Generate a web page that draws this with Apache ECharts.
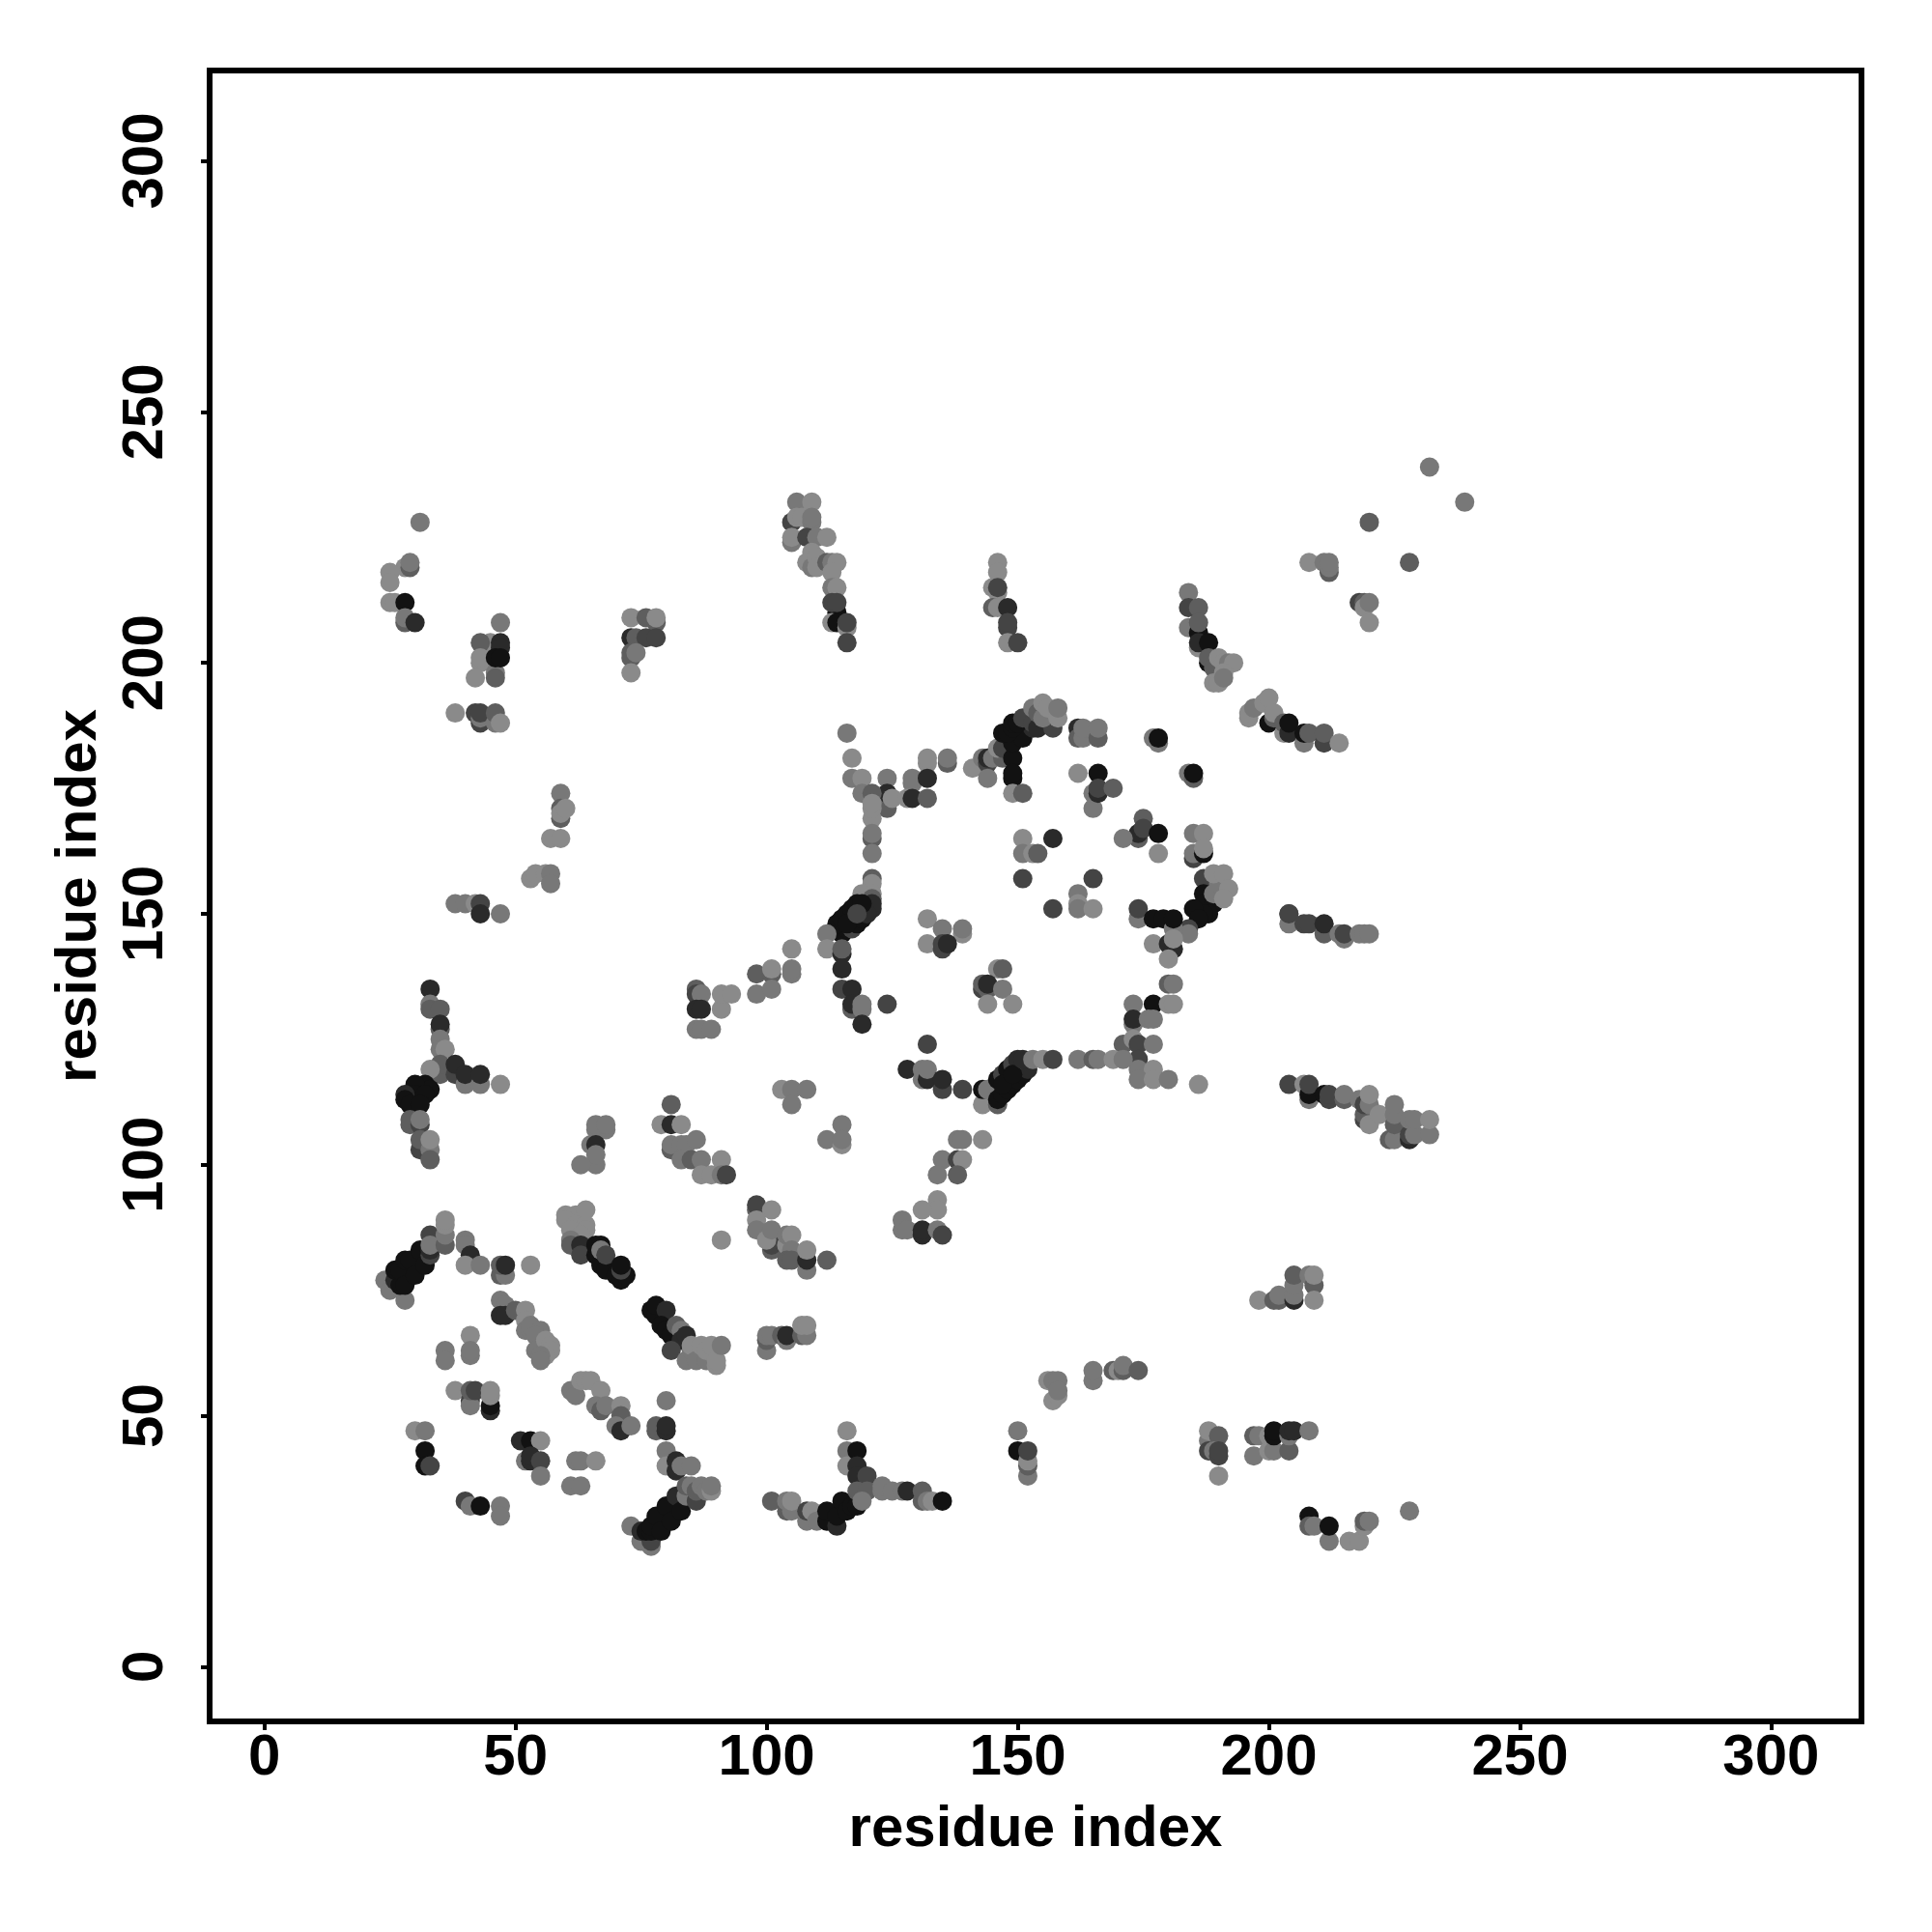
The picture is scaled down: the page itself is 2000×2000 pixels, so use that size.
<!DOCTYPE html>
<html><head><meta charset="utf-8">
<style>html,body{margin:0;padding:0;background:#fff}#c{width:2000px;height:2000px}</style>
<script src="https://cdn.jsdelivr.net/npm/echarts@6/dist/echarts.min.js"></script>
</head><body><div id="c"></div>
<script>
const xTicks=[0,50,100,150,200,250,300];
const yTicks=[0,50,100,150,200,250,300];
const axisTitle='residue index';
// each contact: [residue i, residue j, strength class 1 (strongest) .. 6 (weakest)]
const topLeft=[[31,228,5],[28,219,6],[29,219,4],[29,220,5],[25,218,6],[25,216,6],[25,212,6],[26,212,6],[28,212,1],[28,208,4],[28,209,5],[30,208,2],
[47,208,5],[45,204,6],[43,204,4],[47,204,2],[47,203,2],[43,200,6],[43,201,6],[46,198,5],[46,197,4],[46,201,1],[47,201,1],[42,197,6],[38,190,6],[42,190,3],[43,188,3],[43,189,5],[43,190,3],[46,188,5],[46,190,4],[47,188,6],
[73,209,6],[76,209,4],[78,208,4],[78,209,6],[73,205,2],[74,205,4],[76,205,3],[78,205,3],[73,201,4],[73,202,4],[74,202,5],[73,198,6],
[59,174,5],[59,169,4],[59,171,4],[59,170,6],[60,171,6],[57,165,6],[59,165,6],[53,157,6],[54,158,6],[56,158,6],[57,158,5],[57,156,5],[38,152,5],[40,152,5],[42,152,6],[43,152,3],[43,150,2],[47,150,5]];
const topMiddle=[[106,232,5],[109,232,6],[105,228,3],[106,229,6],[107,229,6],[109,228,5],[109,229,5],[105,224,5],[105,225,6],[108,225,3],[110,225,5],[112,225,6],[109,222,6],[108,220,6],[109,219,5],[110,221,6],[110,219,6],[112,220,4],[113,220,5],[114,220,6],[113,218,6],[113,215,5],[114,215,6],[114,210,1],[113,212,3],[114,212,3],[113,208,6],[114,208,1],[116,207,6],[116,208,3],[116,204,3],
[146,220,6],[146,218,6],[145,215,6],[146,214,6],[146,215,3],[145,211,4],[146,211,6],[148,211,2],[148,207,3],[148,208,3],[148,204,6],[150,204,3]];
const topRight=[[232,239,5],[239,232,5],[220,228,4],[228,220,4],[208,220,6],[211,220,5],[212,218,4],[212,219,5],[212,220,5],[218,212,3],[219,212,4],[219,211,6],[220,212,5],[220,208,6],
[184,214,5],[184,211,3],[186,211,4],[184,207,5],[186,206,1],[186,208,4],[186,203,6],[186,204,2],[188,204,1],[188,200,1],[188,201,4],[189,199,4],[190,201,6],[191,200,6],[192,200,5],[193,200,6],[189,196,6],[190,196,6],[191,198,6],[191,197,5],
[196,189,6],[196,190,6],[197,191,5],[199,192,6],[200,193,6],[200,188,1],[201,189,4],[201,190,6],[203,186,6],[203,188,4],[204,186,2],[204,188,1],[207,184,5],[207,186,1],[208,186,4],[211,184,3],[211,186,4],[214,184,6]];
const ringTop=[[116,186,5],[117,181,6],[117,177,5],[119,177,6],[124,177,5],[119,174,5],[124,171,4],[124,174,2],[121,174,4],[121,169,6],[121,171,6],[121,172,6],[125,173,6],[129,176,5],[129,177,5],[132,180,6],[132,181,6],[132,177,2],[128,173,6],[129,173,2],[132,173,4],[136,180,4],[136,181,5],[121,165,4],[121,166,5],[121,162,5],
[141,179,6],[143,181,5],[144,180,3],[144,181,2],[145,181,5],[147,181,4],[146,183,6],[147,183,3],[144,177,5],[149,181,1],[149,177,1],[149,178,1],[149,174,6],[151,174,4],
[149,184,1],[151,185,1],[153,187,2],[147,186,1],[148,186,1],[149,187,1],[149,188,1],[150,188,1],[151,189,3],[153,188,3],[154,187,2],[157,187,3],[153,191,5],[154,190,4],[155,189,5],[155,192,6],[156,191,6],[158,189,6],[158,191,5],
[162,187,2],[162,185,4],[163,185,5],[163,187,5],[166,185,4],[166,187,5],[177,185,5],[178,184,5],[178,185,1],[162,178,6],[166,178,1],[165,171,5],[165,174,5],[166,174,2],[166,175,3],[169,175,4],[184,178,5],[185,177,4],[185,178,1]];
const ringRight=[[175,169,4],[174,165,4],[174,166,2],[175,167,3],[171,165,5],[178,166,1],[178,162,6],[185,166,5],[187,166,6],[185,161,3],[185,162,5],[187,162,1],[187,163,6],
[187,157,3],[187,154,1],[187,152,1],[189,152,1],[188,150,1],[187,150,1],[185,151,1],[186,149,1],[184,147,3],[184,146,5],[189,154,5],[190,156,5],[189,158,6],[191,158,6],[192,155,6],[191,153,6],
[174,149,5],[174,151,3],[177,149,1],[179,149,1],[181,147,5],[181,149,1],[177,144,6],[180,144,2],[181,143,2],[181,145,6],[180,141,6],[180,136,4],[181,136,5],
[173,132,5],[177,132,1],[180,132,6],[181,132,6],[173,128,5],[173,129,2],[176,129,5],[177,129,5],[171,124,4],[173,125,6],[174,124,3],[177,124,5],[174,121,3],[174,119,5],[177,119,6],[174,117,5],[177,117,6],[186,116,6],[180,117,5]];
const ringBottom=[[132,124,3],[128,119,2],[131,117,5],[131,119,5],[132,117,2],[132,119,5],[135,115,3],[135,117,2],[139,115,3],[143,112,6],[146,112,4],[143,115,1],[144,115,5],
[146,113,1],[147,114,1],[148,115,1],[149,116,1],[150,117,1],[151,118,1],[152,119,2],[146,117,1],[147,118,3],[148,119,1],[149,120,3],[150,121,2],[147,116,1],[149,118,1],[151,121,2],[153,121,5],[155,121,6],[157,121,3],
[162,121,5],[165,121,4],[166,121,5],[169,121,6],[171,121,5]];
const ringLeft=[[121,157,4],[121,156,6],[121,154,6],[119,154,6],[121,153,4],[121,151,2],[121,152,2],
[115,146,1],[116,147,1],[117,147,3],[118,148,1],[119,149,1],[120,150,2],[114,148,1],[115,149,1],[116,150,1],[117,151,1],[118,152,1],[119,152,1],[116,148,1],[118,150,3],
[112,146,5],[112,143,6],[115,142,2],[115,143,4],[115,139,2],[115,135,3],[117,135,2],[117,131,4],[117,132,2],[119,131,5],[119,132,5],[119,128,2],[124,132,3]];
const ringInside=[[132,149,6],[135,147,5],[139,146,6],[139,147,5],[132,144,6],[135,143,3],[135,144,3],[136,144,2],[146,139,6],[147,139,4],[143,135,3],[144,135,4],[143,136,4],[144,136,2],[147,135,5],[144,132,6],[149,132,6],
[151,165,6],[157,165,2],[151,162,5],[153,162,6],[154,162,4],[151,157,3],[165,157,3],[162,154,5],[162,152,6],[162,151,5],[157,151,3],[165,151,6]];
const leftBranch=[[33,135,2],[33,132,5],[33,131,4],[35,131,4],[35,127,4],[35,128,2],[35,125,5],[35,123,5],[36,123,6],[35,118,4],[35,120,4],[33,119,6],[38,118,3],[38,120,2],[40,116,5],[40,118,2],[43,116,5],[43,118,2],[47,116,6],
[32,116,1],[33,115,1],[30,116,1],[30,114,1],[32,114,1],[28,114,2],[28,113,1],[29,112,1],[31,112,1],[29,108,4],[29,109,4],[31,108,3],[31,109,5],[31,103,3],[31,105,4],[33,103,5],[33,105,6],[33,101,4]];
const midLeft=[[66,107,5],[68,107,5],[66,108,5],[68,108,5],[65,104,5],[66,104,2],[66,100,5],[66,102,5],[63,100,5],
[81,112,4],[79,108,6],[81,108,2],[83,108,6],[81,103,4],[81,104,5],[83,104,5],[84,104,5],[86,105,5],[83,101,5],[85,101,4],[87,101,5],[87,98,6],[89,98,6],[91,101,6],[91,98,5],[92,98,3],
[86,135,4],[86,134,3],[87,134,5],[86,131,2],[87,131,2],[86,127,5],[87,127,5],[89,127,5],[91,131,6],[91,134,6],[93,134,6],
[98,138,4],[98,134,5],[101,138,4],[101,139,6],[101,135,5],[105,143,6],[105,138,5],[105,139,5],
[103,115,6],[105,115,5],[108,115,5],[105,112,5],[115,108,5],[112,105,5],[115,104,6],[115,105,5]];
const midRight=[[138,105,5],[139,105,5],[143,105,6],[135,101,5],[138,101,3],[139,101,6],[134,98,5],[138,98,4],[134,93,6],[134,91,6],[131,91,6],[127,87,5],[127,89,5],[128,87,5],[131,86,2],[131,87,2],[134,87,5],[135,86,3],
[204,150,3],[204,148,5],[204,150,3],[207,148,3],[208,148,3],[211,146,4],[211,148,2],[214,146,5],[215,145,5],[215,146,3],[218,146,5],[219,146,5],[220,146,5],
[204,116,3],[207,116,6],[208,113,5],[208,114,1],[208,116,3],[211,114,1],[212,113,3],[212,114,3],[215,113,4],[215,114,5],[218,113,5],[219,109,3],[219,110,4],[219,112,3],[220,108,6],[220,112,5],[220,114,6],[222,110,6],[224,105,4],[225,105,5],[225,108,4],[225,110,5],[225,112,5],[228,105,2],[228,106,3],[228,109,5],[229,106,5],[229,109,5],[232,106,5],[232,109,6]];
const lowLeft=[[24,77,5],[25,75,5],[28,73,5],[26,77,2],[27,76,1],[26,79,1],[27,79,1],[28,76,1],[28,81,1],[29,81,1],[30,78,1],[31,83,1],[32,80,1],[33,82,3],[33,83,2],[33,86,3],[33,84,5],[36,84,4],[36,86,5],[36,88,6],[36,89,6],
[40,85,5],[40,84,5],[41,82,2],[40,80,6],[43,80,5],[47,78,4],[48,78,5],[47,80,4],[48,80,2],[53,80,6],
[47,73,5],[48,72,5],[47,70,2],[48,70,2],[50,71,4],[52,71,6],[52,69,6],[52,67,5],[53,67,5],[53,68,5],[55,67,5],[54,66,5],[54,63,5],[56,65,6],[57,64,6],[57,63,6],[56,62,6],[55,62,5],[55,61,5],
[41,66,6],[41,62,5],[41,63,5],[36,63,5],[36,61,5],[38,55,6],[41,53,3],[41,52,5],[41,55,4],[42,55,3],[45,51,2],[45,52,1],[45,54,6],[45,55,6],
[30,47,6],[32,47,5],[32,43,1],[32,40,1],[33,40,3],[40,33,3],[41,32,5],[43,32,1],[47,32,5],[47,30,5]];
const lowMiddle=[[60,90,6],[62,90,6],[64,91,6],[60,89,6],[62,88,6],[64,88,6],[61,87,6],[64,87,6],[63,86,6],[61,85,5],[61,84,4],[63,84,2],[63,82,3],
[66,82,1],[66,84,1],[67,84,1],[67,80,1],[68,79,1],[70,78,1],[71,77,1],[72,78,1],[67,83,5],[68,82,3],[71,79,3],[71,80,1],
[61,55,5],[62,54,5],[63,57,6],[64,57,6],[65,57,6],[67,55,6],[66,52,5],[67,51,4],[68,52,5],[71,52,6],[71,50,4],[70,48,5],[71,47,2],[73,48,5],
[80,53,5],[78,47,4],[78,48,4],[80,47,2],[80,48,2],[80,43,5],[80,40,6],[82,39,2],[82,41,2],[83,40,5],[85,40,5],
[51,45,2],[53,45,1],[55,45,6],[52,41,5],[53,41,2],[53,42,2],[55,41,3],[55,38,5],[62,41,5],[63,41,5],[66,41,6],[61,36,5],[63,36,5]];
const lowDiagonal=[[77,71,1],[78,70,1],[78,72,1],[80,71,2],[79,68,1],[80,67,1],[81,66,1],[82,68,4],[83,67,5],[83,65,2],[84,66,2],[81,63,3],
[84,61,5],[85,63,5],[85,64,6],[86,61,5],[87,64,6],[88,61,5],[88,63,6],[89,64,6],[90,60,6],[90,61,6],[91,64,5],
[73,28,5],[75,25,5],[77,24,5],[77,25,3],[75,27,2],[76,27,1],[77,27,1],[77,28,1],[78,30,1],[79,27,1],[80,32,1],[81,29,1],[82,34,2],[83,31,1],[84,34,5],[84,36,4],[86,33,3],[85,36,5],[86,35,4],[87,36,5],[88,35,5],[89,35,6],[89,36,5]];
const centerLow=[[98,91,4],[98,92,3],[101,91,6],[98,89,6],[98,87,5],[101,83,4],[101,84,3],[101,85,3],[100,85,6],[101,87,5],[104,84,6],[104,86,5],[105,86,6],[105,83,5],[104,81,4],[105,81,4],[108,79,5],[108,81,2],[108,83,6],[112,81,4],[91,85,6],
[100,63,5],[100,65,4],[100,66,5],[101,66,5],[103,66,4],[104,65,5],[104,66,2],[107,66,4],[108,66,5],[107,68,6],[108,68,6]];
const bottomRow=[[101,33,4],[104,31,4],[104,33,5],[105,31,5],[105,33,6],[108,29,5],[108,31,3],[109,31,6],[110,29,5],[112,29,1],[112,31,1],[114,28,2],[114,30,1],[115,33,1],[116,31,1],[117,32,1],[118,32,1],
[116,47,6],[116,43,5],[116,40,6],[118,43,1],[118,40,2],[118,38,2],[120,38,3],[118,35,4],[120,35,4],[119,33,5],[123,35,5],[123,36,5],[125,35,5],[127,35,5],[128,35,2],[131,33,4],[131,35,4],[132,33,5],[133,33,6],[135,33,1],
[150,47,5],[150,43,1],[152,38,5],[152,40,4],[152,41,6],[152,43,3],[156,57,6],[157,57,5],[158,57,5],[157,53,6],[158,54,6],[158,55,5],
[165,57,5],[165,59,5],[169,59,4],[170,59,6],[171,59,4],[171,60,5],[174,59,4]];
const bottomRight=[[188,45,5],[188,47,6],[190,46,4],[188,43,3],[189,43,5],[190,42,3],[190,43,3],[190,38,6],
[197,42,5],[197,46,4],[198,46,5],[200,46,6],[200,43,6],[201,43,5],[201,46,1],[201,47,1],[204,43,4],[204,46,5],[204,47,2],[205,47,2],[208,47,5],
[198,73,6],[201,73,4],[202,73,4],[202,74,5],[205,73,2],[205,74,5],[205,76,5],[205,78,4],[208,78,5],[209,76,4],[209,78,6],[209,73,6],
[208,30,1],[208,28,4],[209,28,5],[212,25,5],[212,28,1],[216,25,6],[218,25,6],[219,28,6],[219,29,4],[220,29,5],[228,31,5]];
const contacts=[].concat(topLeft,topMiddle,topRight,ringTop,ringRight,ringBottom,ringLeft,ringInside,leftBranch,midLeft,midRight,lowLeft,lowMiddle,lowDiagonal,centerLow,bottomRow,bottomRight);
const shades=['#121212','#2a2a2a','#444444','#5e5e5e','#787878','#8a8a8a'];
const font='"Liberation Sans", Arial, sans-serif';
const chart=echarts.init(document.getElementById('c'),null,{renderer:'canvas'});
chart.setOption({
  animation:false,
  backgroundColor:'#fff',
  grid:{left:217,right:73,top:73,bottom:218,show:true,borderColor:'#000',borderWidth:6,backgroundColor:'#fff'},
  xAxis:{type:'value',min:-10.9,max:318,name:axisTitle,nameLocation:'middle',nameGap:82,
    nameTextStyle:{fontFamily:font,fontWeight:'bold',fontSize:60,color:'#000'},
    axisLine:{show:false,onZero:false},splitLine:{show:false},
    axisTick:{show:true,length:9,inside:false,lineStyle:{color:'#000',width:4},customValues:xTicks},
    axisLabel:{show:true,margin:8,fontFamily:font,fontWeight:'bold',fontSize:60,color:'#000',customValues:xTicks,formatter:v=>String(v)}},
  yAxis:{type:'value',min:-10.9,max:318,name:axisTitle,nameLocation:'middle',nameGap:105,nameRotate:90,
    nameTextStyle:{fontFamily:font,fontWeight:'bold',fontSize:60,color:'#000'},
    axisLine:{show:false,onZero:false},splitLine:{show:false},
    axisTick:{show:true,length:9,lineStyle:{color:'#000',width:4},customValues:yTicks},
    axisLabel:{show:true,rotate:90,margin:36,fontFamily:font,fontWeight:'bold',fontSize:60,color:'#000',customValues:yTicks,formatter:v=>String(v)}},
  series:[{type:'scatter',data:contacts,symbol:'circle',symbolSize:20,encode:{x:0,y:1},
    itemStyle:{opacity:1,color:p=>shades[p.value[2]-1]}}]
});
</script></body></html>
